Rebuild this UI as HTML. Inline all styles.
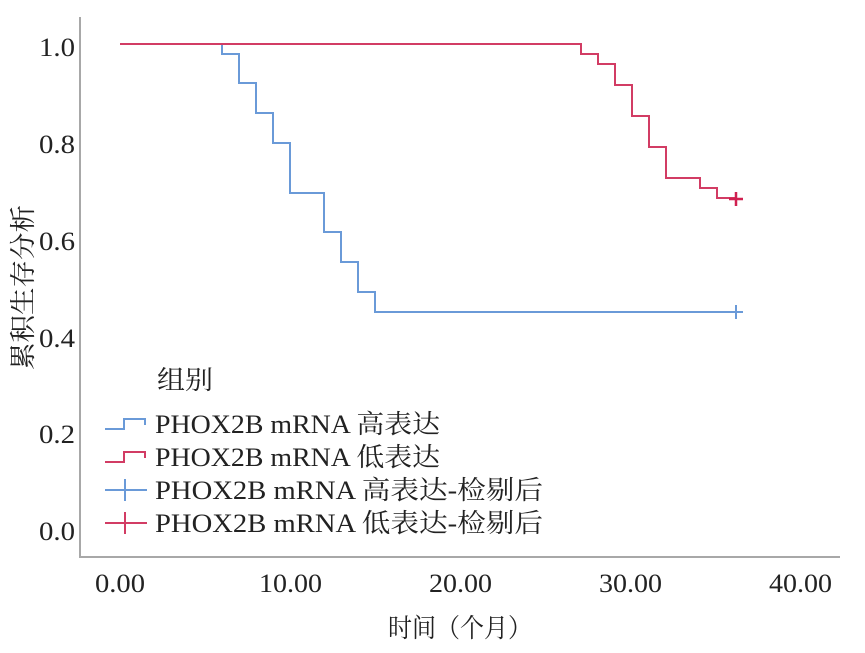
<!DOCTYPE html>
<html><head><meta charset="utf-8"><style>
body{margin:0;background:#fff;}
svg text{font-family:"Liberation Serif","Noto Serif CJK SC",serif;fill:#222;}
</style></head><body>
<svg width="865" height="648" xmlns="http://www.w3.org/2000/svg">
<rect width="865" height="648" fill="#fff"/>
<polyline points="80,17 80,557 840,557" fill="none" stroke="#a8a8a8" stroke-width="2"/>
<g font-size="26" text-anchor="end">
<text x="75" y="56" textLength="36" lengthAdjust="spacingAndGlyphs">1.0</text>
<text x="75" y="153" textLength="36" lengthAdjust="spacingAndGlyphs">0.8</text>
<text x="75" y="250" textLength="36" lengthAdjust="spacingAndGlyphs">0.6</text>
<text x="75" y="347" textLength="36" lengthAdjust="spacingAndGlyphs">0.4</text>
<text x="75" y="443" textLength="36" lengthAdjust="spacingAndGlyphs">0.2</text>
<text x="75" y="540" textLength="36" lengthAdjust="spacingAndGlyphs">0.0</text>
</g>
<g font-size="26">
<text x="95" y="592" textLength="50" lengthAdjust="spacingAndGlyphs">0.00</text>
<text x="259" y="592" textLength="63" lengthAdjust="spacingAndGlyphs">10.00</text>
<text x="429" y="592" textLength="63" lengthAdjust="spacingAndGlyphs">20.00</text>
<text x="599" y="592" textLength="63" lengthAdjust="spacingAndGlyphs">30.00</text>
<text x="769" y="592" textLength="63" lengthAdjust="spacingAndGlyphs">40.00</text>
<text x="388" y="637" textLength="144" lengthAdjust="spacingAndGlyphs">时间（个月）</text>
</g>
<text font-size="26" transform="translate(32,370) rotate(-90)" textLength="165" lengthAdjust="spacingAndGlyphs">累积生存分析</text>
<polyline fill="none" stroke="#6a9ad8" stroke-width="2" points="120,44 222,44 222,54 239,54 239,83 256,83 256,113 273,113 273,143 290,143 290,193 324,193 324,232 341,232 341,262 358,262 358,292 375,292 375,312 736,312"/>
<path d="M729,312h14M736,305v14" stroke="#6a9ad8" stroke-width="2"/>
<polyline fill="none" stroke="#d23c64" stroke-width="2" points="120,44 581,44 581,54 598,54 598,64 615,64 615,85 632,85 632,116 649,116 649,147 666,147 666,178 700,178 700,188 717,188 717,198 736,198"/>
<path d="M729,199h14M736,192v14" stroke="#d02050" stroke-width="2.5"/>
<g font-size="26">
<text x="157" y="389" textLength="56" lengthAdjust="spacingAndGlyphs">组别</text>
<text x="155" y="433" textLength="285" lengthAdjust="spacingAndGlyphs">PHOX2B mRNA 高表达</text>
<text x="155" y="466" textLength="285" lengthAdjust="spacingAndGlyphs">PHOX2B mRNA 低表达</text>
<text x="155" y="499" textLength="388" lengthAdjust="spacingAndGlyphs">PHOX2B mRNA 高表达-检剔后</text>
<text x="155" y="532" textLength="388" lengthAdjust="spacingAndGlyphs">PHOX2B mRNA 低表达-检剔后</text>
</g>
<polyline fill="none" stroke="#6a9ad8" stroke-width="2" points="105,429 124,429 124,419 145,419 145,425"/>
<polyline fill="none" stroke="#d23c64" stroke-width="2" points="105,462 124,462 124,452 145,452 145,458"/>
<path d="M105,490h42M125,479v22" stroke="#6a9ad8" stroke-width="2"/>
<path d="M105,523h42M125,512v22" stroke="#d23c64" stroke-width="2"/>
</svg>
</body></html>
